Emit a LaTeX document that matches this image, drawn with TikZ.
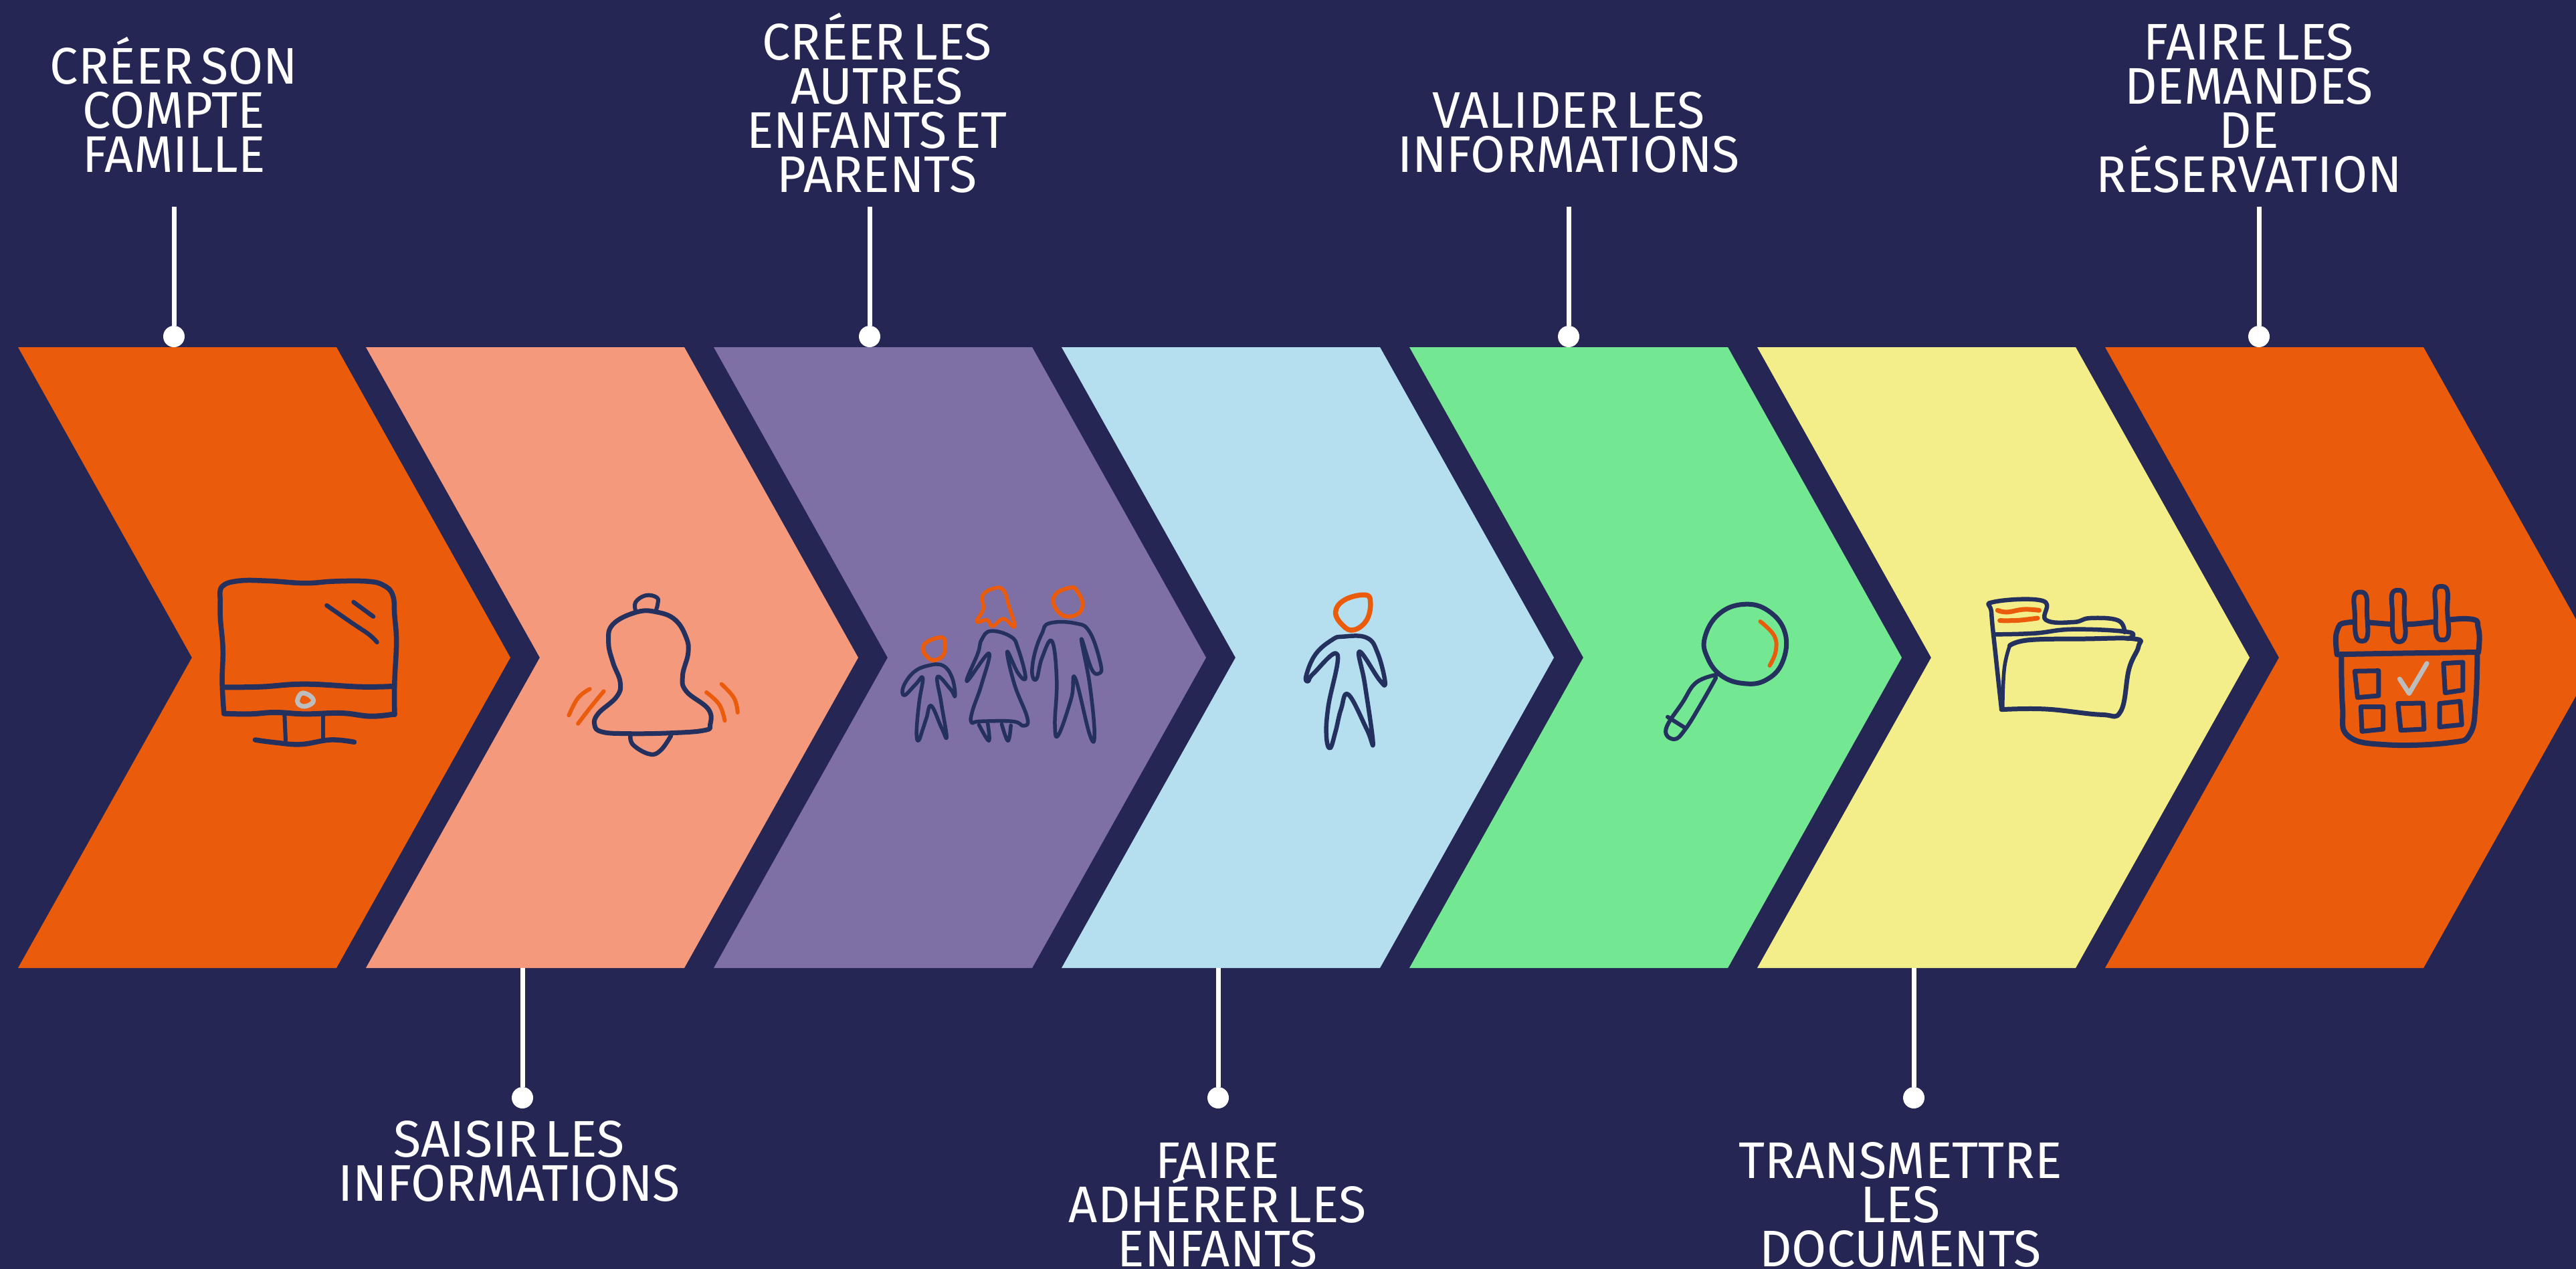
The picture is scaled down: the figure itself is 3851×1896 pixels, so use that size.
\documentclass[tikz,border=0pt]{standalone}
\usepackage{fontspec}
\setmainfont[FakeStretch=0.98,WordSpace=0.55]{Fira Sans}
\lineskiplimit=-200pt
\definecolor{bgnavy}{HTML}{262654}
\definecolor{ink}{HTML}{24305E}
\definecolor{c1}{HTML}{EA5B0C}
\definecolor{c2}{HTML}{F4997B}
\definecolor{c3}{HTML}{7E70A4}
\definecolor{c4}{HTML}{B5DFEE}
\definecolor{c5}{HTML}{74E792}
\definecolor{c6}{HTML}{F3ED8A}
\definecolor{tickgray}{HTML}{BDBDBD}
\tikzset{
  lbl/.style={text=white,align=center,font=\fontsize{77}{66}\selectfont,inner sep=0pt,anchor=base},
  dotn/.style={circle,fill=white,minimum size=32pt,inner sep=0pt},
  conn/.style={white,line width=7pt},
  inkl/.style={ink,line width={#1+1pt},line cap=round,line join=round},
  inkl/.default=5pt,
  orl/.style={c1,line width={#1+1pt},line cap=round,line join=round},
  orl/.default=5pt,
  zoomA/.style={shift={(280,820)},x=.5485pt,y=-.33333pt},
  zoomB/.style={shift={(1300,850)},x=.5485pt,y=-.33333pt},
  zoomC/.style={shift={(2420,850)},x=.8291pt,y=-.33333pt},
}
\newcommand\chev[3]{%
  \fill[#2] (#1,519) coordinate (#3tl) -- ++(476,0) coordinate (#3tr) -- ++(260,464) coordinate (#3tip) -- ++(-260,464) coordinate (#3br) -- ++(-476,0) coordinate (#3bl) -- ++(260,-464) -- cycle;}
\newcommand\sm[2][]{\draw[#1] plot[smooth,tension=.7] coordinates {#2};}
\newcommand\smc[2][]{\draw[#1] plot[smooth cycle,tension=.7] coordinates {#2};}
\begin{document}
\begin{tikzpicture}[x=1pt,y=-1pt]
\useasboundingbox (0,0) rectangle (3851,1896);
\fill[bgnavy] (-6,-6) rectangle (3857,1902);
\begin{scope}
\clip (0,0) rectangle (3851,1896);
\chev{27}{c1}{a}
\chev{547}{c2}{b}
\chev{1067}{c3}{c}
\chev{1587}{c4}{d}
\chev{2107}{c5}{e}
\chev{2627}{c6}{f}
\chev{3147}{c1}{g}
\end{scope}
% labels: the base anchor sits on the last line
\node[lbl] (l1) at (260,257) {CRÉER SON\\COMPTE\\FAMILLE};
\node[lbl] (l3) at (1311,287) {CRÉER LES\\AUTRES\\ENFANTS ET\\PARENTS};
\node[lbl] (l5) at (2345,257) {VALIDER LES\\INFORMATIONS};
\node[lbl] (l7) at (3362,287) {FAIRE LES\\DEMANDES\\DE\\RÉSERVATION};
\node[lbl] (l2) at (761,1795) {SAISIR LES\\INFORMATIONS};
\node[lbl] (l4) at (1820,1893) {FAIRE\\ADHÉRER LES\\ENFANTS};
\node[lbl] (l6) at (2841,1893) {TRANSMETTRE\\LES\\DOCUMENTS};
% connectors
\foreach \n/\xx in {1/260,3/1300,5/2345,7/3377}{
  \coordinate (t\n) at (\xx,309);
  \node[dotn] (d\n) at (\xx,503) {};
  \draw[conn] (t\n) -- (d\n);
}
\foreach \n/\xx in {2/781,4/1821,6/2861}{
  \coordinate (t\n) at (\xx,1447);
  \node[dotn] (d\n) at (\xx,1641) {};
  \draw[conn] (t\n) -- (d\n);
}
% monitor and bell
\begin{scope}[zoomA]
\sm[inkl=6.5pt]{(90,225)(95,170)(140,145)(220,145)(320,155)(400,147)(490,147)(535,165)(560,210)(565,300)(570,420)(565,600)(565,745)}
\sm[inkl=6.5pt]{(90,225)(90,310)(97,450)(95,600)(100,740)}
\sm[inkl=7pt]{(100,740)(170,742)(240,735)(320,742)(420,738)(500,752)(565,742)}
\sm[inkl=7pt]{(97,622)(200,620)(320,608)(470,620)(558,618)}
\sm[inkl=5.5pt]{(380,255)(450,335)(495,385)(517,420)}
\sm[inkl=5.5pt]{(453,240)(507,305)}
\smc[tickgray,line width=7pt]{(302,670)(315,648)(338,665)(342,690)(320,708)(302,695)}
\draw[inkl=5pt] (265,745) -- (268,860);
\draw[inkl=5pt] (370,750) -- (370,855);
\sm[inkl=6.5pt]{(185,858)(240,870)(310,878)(390,858)(455,868)}
\sm[inkl=5pt]{(1222,280)(1222,240)(1250,210)(1280,220)(1282,250)(1276,283)}
\smc[inkl=6pt]{(1110,790)(1120,740)(1170,665)(1180,600)(1160,510)(1148,420)(1160,340)(1225,285)(1280,285)(1330,320)(1360,400)(1365,470)(1350,570)(1360,640)(1420,720)(1425,790)(1410,815)(1320,827)(1200,830)(1130,822)}
\sm[inkl=5.5pt]{(1208,835)(1215,880)(1260,922)(1290,905)(1318,840)}
\sm[orl=5pt]{(1097,630)(1065,670)(1040,748)}
\sm[orl=5pt]{(1135,640)(1100,710)(1065,785)}
\sm[orl=5pt]{(1415,645)(1450,700)(1465,772)}
\sm[orl=5pt]{(1456,608)(1490,670)(1500,735)}
\end{scope}
% family and person
\begin{scope}[zoomB]
\smc[orl=5pt]{(200,310)(160,325)(145,360)(160,400)(178,410)(200,390)(205,350)}
\smc[inkl=4.5pt]{(160,435)(200,435)(225,490)(233,572)(220,540)(185,485)(195,600)(210,755)(195,710)(168,615)(155,670)(145,720)(133,772)(128,730)(135,600)(145,490)(125,520)(95,568)(92,530)(120,465)}
\smc[orl=4.5pt]{(340,88)(365,97)(380,170)(395,260)(365,225)(335,258)(320,230)(292,238)(310,180)(308,120)}
\smc[inkl=4.5pt]{(330,280)(385,305)(405,360)(425,488)(405,470)(375,372)(395,520)(430,670)(420,705)(390,685)(300,685)(278,690)(280,640)(305,520)(325,380)(265,505)(295,380)(305,320)}
\sm[inkl=4.5pt]{(298,700)(325,772)(322,695)}
\sm[inkl=4.5pt]{(360,697)(377,772)(385,703)}
\smc[orl=5pt]{(550,85)(510,110)(502,160)(530,212)(570,200)(580,150)(565,100)}
\smc[inkl=4.5pt]{(490,245)(560,245)(600,285)(630,430)(625,470)(605,450)(577,315)(600,520)(613,740)(600,745)(560,490)(550,580)(515,745)(505,700)(510,500)(497,325)(470,400)(455,495)(443,470)(450,380)(470,290)}
\smc[orl=6.5pt]{(1350,118)(1295,140)(1270,195)(1290,255)(1320,275)(1355,230)(1365,150)}
\smc[inkl=5.5pt]{(1290,305)(1355,310)(1385,380)(1405,510)(1390,500)(1335,372)(1350,520)(1372,780)(1355,720)(1305,565)(1285,630)(1270,730)(1255,805)(1245,750)(1250,620)(1275,385)(1210,470)(1195,505)(1190,480)(1215,385)(1260,320)}
\end{scope}
% magnifier, folder, calendar
\begin{scope}[zoomC]
\smc[inkl=6pt]{(225,160)(270,190)(300,290)(295,420)(265,500)(225,515)(185,480)(160,400)(155,310)(180,205)}
\sm[inkl=5pt]{(178,475)(140,510)(115,600)(85,720)(100,765)(120,720)(150,600)(175,490)}
\draw[inkl=5pt] (88,665) -- (120,715);
\sm[orl=5pt]{(255,237)(280,300)(283,370)(272,435)}
\sm[inkl=5.5pt]{(690,630)(680,400)(672,200)(675,150)(765,145)(770,230)(820,240)(850,222)(900,232)(912,285)}
\sm[inkl=5.5pt]{(680,295)(750,290)(820,272)(920,285)(918,315)}
\sm[inkl=6pt]{(705,345)(740,320)(840,315)(930,315)(937,350)(920,450)(905,640)(870,655)(770,630)(690,632)}
\sm[inkl=4.5pt]{(705,345)(695,450)(692,630)}
\sm[orl=6pt]{(683,187)(700,195)(730,183)(758,187)}
\sm[orl=6pt]{(687,233)(720,232)(755,222)}
\sm[inkl=7pt]{(1295,385)(1295,280)(1320,240)(1420,250)(1530,225)(1550,270)(1550,375)}
\sm[inkl=7pt]{(1295,385)(1400,380)(1550,375)}
\sm[inkl=7pt]{(1303,395)(1305,620)(1315,750)(1385,790)(1500,780)(1535,740)(1545,600)(1548,385)}
\smc[inkl=6pt,fill=c1]{(1337,105)(1326,125)(1327,200)(1329,300)(1340,325)(1350,300)(1349,200)(1348,125)}
\smc[inkl=6pt,fill=c1]{(1405,97)(1394,117)(1395,200)(1396,300)(1407,328)(1418,300)(1416,200)(1416,117)}
\smc[inkl=6pt,fill=c1]{(1483,80)(1472,100)(1473,190)(1474,295)(1485,320)(1496,295)(1494,190)(1494,100)}
\draw[inkl=6pt] (1327,460) -- (1370,458) -- (1370,570) -- (1332,578) -- cycle;
\draw[inkl=6pt] (1487,425) -- (1522,420) -- (1522,545) -- (1490,557) -- cycle;
\draw[inkl=6pt] (1338,620) -- (1378,620) -- (1378,720) -- (1340,730) -- cycle;
\draw[inkl=6pt] (1405,605) -- (1450,603) -- (1452,720) -- (1410,725) -- cycle;
\draw[inkl=6pt] (1480,605) -- (1517,595) -- (1520,700) -- (1480,710) -- cycle;
\draw[tickgray,line width=7pt,line cap=round,line join=round] (1408,495) -- (1425,560) -- (1457,425);
\end{scope}
\end{tikzpicture}
\end{document}
